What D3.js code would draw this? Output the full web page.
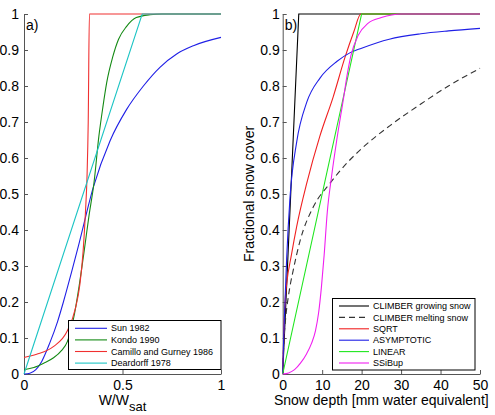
<!DOCTYPE html>
<html>
<head>
<meta charset="utf-8">
<script src="https://cdn.jsdelivr.net/npm/d3@7"></script>
<style>
	body { margin: 0; background: #fff; }
	svg { display: block; font-family: "Liberation Sans", Arial, Helvetica, sans-serif; }
</style>
</head>
<body>
<svg id="chart" width="495" height="415"></svg>
<script>
// ---- panel a) : fractional cover vs W/Wsat ----
const sunX = [0, 0.03, 0.06, 0.09, 0.13, 0.17, 0.2, 0.24, 0.276, 0.352, 0.437, 0.521, 0.606, 0.69, 0.775, 0.86, 1.0];
const sunY = [0, 0.002, 0.012, 0.035, 0.085, 0.145, 0.2, 0.28, 0.355, 0.519, 0.648, 0.735, 0.8, 0.852, 0.889, 0.912, 0.935];
const kondoX = [0, 0.05, 0.1, 0.15, 0.19, 0.22, 0.25, 0.28, 0.305, 0.33, 0.355, 0.38, 0.4, 0.42, 0.45, 0.48, 0.52, 0.57, 0.64, 0.7, 1.0];
const kondoY = [0.012, 0.018, 0.03, 0.045, 0.065, 0.09, 0.15, 0.245, 0.34, 0.44, 0.53, 0.66, 0.74, 0.81, 0.88, 0.93, 0.965, 0.99, 0.998, 1, 1];
const camilloX = [0, 0.064, 0.149, 0.22, 0.26, 0.284, 0.3, 0.312, 0.32, 0.326, 0.332, 1.0];
const camilloY = [0.046, 0.055, 0.076, 0.12, 0.18, 0.25, 0.34, 0.45, 0.55, 0.7, 1, 1];
const deardorffX = [0, 0.6, 1.0];
const deardorffY = [0, 1, 1];
const namesA = ["Sun 1982", "Kondo 1990", "Camillo and Gurney 1986", "Deardorff 1978"];
const ticksAx = [0, 0.5, 1];

// ---- panel b) : fractional cover vs snow depth ----
const growX = [0, 4.07, 50];
const growY = [0, 1, 1];
const meltX = [0, 0.3, 0.8, 1.5, 2.7, 4.4, 7.8, 12, 16.2, 20.4, 27.2, 35, 42, 50];
const meltY = [0, 0.09, 0.16, 0.22, 0.29, 0.37, 0.465, 0.53, 0.585, 0.63, 0.69, 0.75, 0.8, 0.849];
const sqrtX = [0, 0.3, 0.6, 1.0, 2.2, 3.55, 6.1, 9.4, 12.8, 15.8, 18, 19.8, 50];
const sqrtY = [0, 0.12, 0.2, 0.25, 0.33, 0.41, 0.53, 0.66, 0.77, 0.88, 0.95, 1, 1];
const asymX = [0, 0.25, 0.58, 1.0, 1.85, 3.55, 6.1, 9.45, 13.7, 17, 20, 27, 35, 42, 50];
const asymY = [0, 0.1, 0.2, 0.32, 0.49, 0.645, 0.755, 0.822, 0.868, 0.892, 0.905, 0.93, 0.945, 0.953, 0.96];
const linX = [0, 20, 50];
const linY = [0, 1, 1];
const ssibX = [0, 1.5, 3, 4.5, 6, 7.3, 8.3, 9.1, 9.8, 10.5, 11.3, 12.4, 13.7, 15.4, 16.4, 17.3, 19.1, 21.6, 25, 30, 50];
const ssibY = [0, 0.003, 0.012, 0.03, 0.055, 0.085, 0.12, 0.17, 0.24, 0.33, 0.45, 0.55, 0.65, 0.765, 0.835, 0.885, 0.94, 0.974, 0.99, 1, 1];
const namesB = ["CLIMBER growing snow", "CLIMBER melting snow", "SQRT", "ASYMPTOTIC", "LINEAR", "SSiBup"];
const ticksBx = [0, 10, 20, 30, 40, 50];

const ticksY = [0, 0.1, 0.2, 0.3, 0.4, 0.5, 0.6, 0.7, 0.8, 0.9, 1];

const zip = (xs, ys) => xs.map((x, i) => [x, ys[i]]);

const seriesA = [
	{ name: namesA[0], pts: zip(sunX, sunY), color: "#1f1fe6", curve: d3.curveMonotoneX },
	{ name: namesA[1], pts: zip(kondoX, kondoY), color: "#148a14", curve: d3.curveMonotoneX },
	{ name: namesA[2], pts: zip(camilloX, camilloY), color: "#f03030", curve: d3.curveMonotoneX },
	{ name: namesA[3], pts: zip(deardorffX, deardorffY), color: "#1cc4c4", curve: d3.curveLinear }
];
const seriesB = [
	{ name: namesB[0], pts: zip(growX, growY), color: "#000", curve: d3.curveLinear },
	{ name: namesB[1], pts: zip(meltX, meltY), color: "#333", curve: d3.curveMonotoneX, dash: "6,4" },
	{ name: namesB[2], pts: zip(sqrtX, sqrtY), color: "#f02020", curve: d3.curveMonotoneX },
	{ name: namesB[3], pts: zip(asymX, asymY), color: "#1f1fe6", curve: d3.curveMonotoneX },
	{ name: namesB[4], pts: zip(linX, linY), color: "#1ee61e", curve: d3.curveLinear },
	{ name: namesB[5], pts: zip(ssibX, ssibY), color: "#f01ef0", curve: d3.curveMonotoneX }
];

const svg = d3.select("#chart");
const axisColor = "#555";

const y = d3.scaleLinear().domain([0, 1]).range([374, 14]);

// draws one panel: axes, curves, legend
const drawPanel = (x, xTicks, series, legend, tag) => {
	const g = svg.append("g");

	g.append("g")
		.attr("transform", `translate(${x.range()[0]},0)`)
		.call(d3.axisLeft(y).tickValues(ticksY).tickFormat(d3.format("~g"))
			.tickSizeInner(-4).tickSizeOuter(0).tickPadding(tag.labelGap))
		.call((a) => a.selectAll("path, line").attr("stroke", axisColor))
		.call((a) => a.selectAll("text").attr("font-size", 14).attr("fill", "#000").attr("font-family", null));

	g.append("g")
		.attr("transform", `translate(0,${y(0)})`)
		.call(d3.axisBottom(x).tickValues(xTicks).tickFormat(d3.format("~g"))
			.tickSizeInner(-4).tickSizeOuter(0).tickPadding(6))
		.call((a) => a.selectAll("path, line").attr("stroke", axisColor))
		.call((a) => a.selectAll("text").attr("font-size", 14).attr("fill", "#000").attr("font-family", null));

	series.forEach((s) => {
		const line = d3.line().x((d) => x(d[0])).y((d) => y(d[1])).curve(s.curve);
		g.append("path")
			.datum(s.pts)
			.attr("d", line)
			.attr("fill", "none")
			.attr("stroke", s.color)
			.attr("stroke-width", 1.1)
			.attr("stroke-dasharray", s.dash || null);
	});

	g.append("text")
		.attr("x", x.range()[0] + 2)
		.attr("y", 30)
		.attr("font-size", 14)
		.text(tag.label);

	// legend box
	const lg = g.append("g");
	lg.append("rect")
		.attr("x", legend.x0)
		.attr("y", legend.y0)
		.attr("width", legend.x1 - legend.x0)
		.attr("height", legend.y1 - legend.y0)
		.attr("fill", "#fff")
		.attr("stroke", "#000")
		.attr("stroke-width", 1);
	series.forEach((s, i) => {
		const ry = legend.row0 + i * legend.step;
		lg.append("line")
			.attr("x1", legend.lx0).attr("x2", legend.lx1)
			.attr("y1", ry).attr("y2", ry)
			.attr("stroke", s.color)
			.attr("stroke-width", 1.1)
			.attr("stroke-dasharray", s.dash || null);
		lg.append("text")
			.attr("x", legend.tx)
			.attr("y", ry)
			.attr("dy", "0.35em")
			.attr("font-size", 9)
			.text(s.name);
	});
};

const xA = d3.scaleLinear().domain([0, 1]).range([24, 221]);
const xB = d3.scaleLinear().domain([0, 50]).range([282.7, 480]);

drawPanel(xA, ticksAx, seriesA,
	{ x0: 68.5, x1: 221, y0: 320.5, y1: 369.5, row0: 328.3, step: 11.6, lx0: 75, lx1: 107, tx: 111 },
	{ label: "a)", labelGap: 5 });
drawPanel(xB, ticksBx, seriesB,
	{ x0: 332.5, x1: 475, y0: 298.5, y1: 370, row0: 306, step: 11.4, lx0: 339, lx1: 369, tx: 373 },
	{ label: "b)", labelGap: 3 });

// axis titles
const xt = svg.append("text")
	.attr("x", 122.5)
	.attr("y", 405)
	.attr("text-anchor", "middle")
	.attr("font-size", 14);
xt.append("tspan").text("W/W");
xt.append("tspan").attr("dy", 6).attr("font-size", 13).text("sat");

svg.append("text")
	.attr("x", 381.3)
	.attr("y", 405)
	.attr("text-anchor", "middle")
	.attr("font-size", 14)
	.text("Snow depth [mm water equivalent]");

svg.append("text")
	.attr("transform", "translate(254,194) rotate(-90)")
	.attr("text-anchor", "middle")
	.attr("font-size", 14)
	.text("Fractional snow cover");
</script>
</body>
</html>
